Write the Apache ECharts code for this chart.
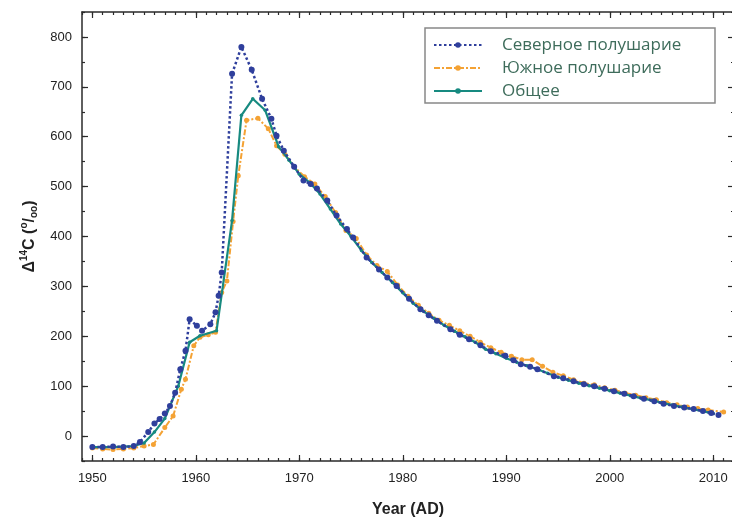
<!DOCTYPE html>
<html>
<head>
<meta charset="utf-8">
<script src="https://cdn.jsdelivr.net/npm/echarts@6/dist/echarts.min.js"></script>
<style>
html,body{margin:0;padding:0;background:#fff;overflow:hidden;}
#c{width:732px;height:520px;}
</style>
</head>
<body>
<div id="c"></div>
<script>
// ---- data ----
const xTickLabels = [1950, 1960, 1970, 1980, 1990, 2000, 2010];
const yTickLabels = [0, 100, 200, 300, 400, 500, 600, 700, 800];

const northYears = [1950, 1951, 1952, 1953, 1954, 1954.6, 1955.4, 1956, 1956.5, 1957, 1957.5, 1958, 1958.5, 1959, 1959.4, 1960.1, 1960.6, 1961.4, 1961.9, 1962.2, 1962.5, 1963.5, 1964.4, 1965.4, 1966.4, 1967.3, 1967.8, 1968.5, 1969.5, 1970.4, 1971.1, 1971.7, 1972.7, 1973.6, 1974.6, 1975.2, 1976.5, 1977.7, 1978.5, 1979.4, 1980.6, 1981.7, 1982.5, 1983.3, 1984.6, 1985.5, 1986.4, 1987.5, 1988.5, 1989.9, 1990.7, 1991.4, 1992.3, 1993, 1994.6, 1995.5, 1996.5, 1997.5, 1998.5, 1999.5, 2000.4, 2001.4, 2002.3, 2003.3, 2004.3, 2005.2, 2006.2, 2007.2, 2008.1, 2009, 2009.8, 2010.5];
const northValues = [-22, -22, -21, -22, -20, -12, 8, 25, 34, 45, 60, 87, 134, 171, 234, 221, 211, 224, 248, 281, 328, 726, 780, 734, 676, 636, 602, 572, 540, 512, 505, 496, 472, 442, 415, 398, 358, 334, 318, 301, 275, 254, 242, 231, 214, 203, 194, 182, 170, 161, 152, 144, 139, 134, 120, 116, 110, 104, 100, 95, 90, 85, 80, 75, 70, 65, 60, 57, 54, 50, 46, 42];

const southYears = [1950, 1951, 1952, 1953, 1954, 1955, 1955.9, 1957, 1957.8, 1958.6, 1959, 1959.8, 1960.4, 1961.2, 1961.9, 1962.5, 1963, 1963.6, 1964.1, 1964.9, 1966, 1967, 1967.8, 1968.6, 1969.5, 1970.5, 1971.5, 1972.5, 1973.5, 1974.5, 1975.5, 1976.5, 1977.5, 1978.5, 1979.5, 1980.5, 1981.5, 1982.5, 1983.5, 1984.5, 1985.5, 1986.5, 1987.5, 1988.5, 1989.5, 1990.5, 1991.5, 1992.5, 1993.5, 1994.5, 1995.5, 1996.5, 1997.5, 1998.5, 1999.5, 2000.5, 2001.5, 2002.5, 2003.5, 2004.5, 2005.5, 2006.5, 2007.5, 2008.5, 2009.5, 2011];
const southValues = [-24, -26, -27, -26, -24, -20, -17, 17, 40, 94, 114, 181, 198, 203, 208, 288, 311, 430, 522, 633, 637, 616, 582, 565, 540, 520, 505, 480, 448, 412, 396, 363, 342, 330, 303, 280, 262, 246, 232, 222, 211, 200, 188, 177, 168, 160, 153, 153, 140, 128, 121, 113, 106, 103, 97, 92, 86, 82, 77, 73, 67, 63, 58, 55, 52, 48];

const totalYears = [1950, 1952, 1954, 1955, 1956, 1957, 1958.3, 1959.4, 1960.4, 1962, 1963.5, 1964.4, 1965.5, 1966.7, 1968, 1969, 1970, 1971, 1972, 1973, 1974, 1975, 1976, 1977, 1978, 1979, 1980, 1981, 1982, 1983, 1984, 1985, 1986, 1987, 1988, 1989, 1990, 1991, 1992, 1993, 1994, 1995, 1996, 1997, 1998, 1999, 2000, 2001, 2002, 2003, 2004, 2005, 2006, 2007, 2008, 2009, 2010];
const totalValues = [-22, -22, -20, -14, 8, 35, 100, 188, 201, 211, 432, 643, 676, 653, 580, 553, 525, 508, 485, 455, 425, 400, 372, 348, 328, 308, 287, 266, 250, 236, 222, 210, 199, 188, 174, 165, 156, 148, 141, 134, 126, 118, 112, 106, 101, 96, 91, 86, 81, 76, 72, 67, 62, 58, 54, 50, 45];

const names = ['Северное полушарие', 'Южное полушарие', 'Общее'];

function pairs(xs, ys) { return xs.map((x, i) => [x, ys[i]]); }

const axisColor = '#2a2a2a';
const labelFont = 'Liberation Sans, Arial, sans-serif';

function xAx(pos, major) {
  const a = {
    type: 'value', min: 1949, max: 2012, position: pos,
    axisLine: { show: major, onZero: false, lineStyle: { color: axisColor, width: 1.5 } },
    splitLine: { show: false },
    axisTick: { show: true, inside: true, length: major ? 6 : 3, lineStyle: { color: axisColor, width: 1.2 } },
    axisLabel: { show: false }
  };
  if (major) {
    a.axisTick.customValues = xTickLabels;
  } else {
    a.interval = 1;
  }
  return a;
}
function yAx(pos, major) {
  const a = {
    type: 'value', min: -50, max: 850, position: pos,
    axisLine: { show: major, onZero: false, lineStyle: { color: axisColor, width: 1.5 } },
    splitLine: { show: false },
    axisTick: { show: true, inside: true, length: major ? 6 : 3, lineStyle: { color: axisColor, width: 1.2 } },
    axisLabel: { show: false }
  };
  if (major) {
    a.axisTick.customValues = yTickLabels;
  } else {
    a.interval = 50;
  }
  return a;
}

const xb = xAx('bottom', true);
xb.axisLabel = { show: true, customValues: xTickLabels, margin: 11, fontSize: 13, color: '#222', fontFamily: labelFont, formatter: v => String(v) };
xb.name = 'Year (AD)';
xb.nameLocation = 'middle';
xb.nameGap = 41;
xb.nameTextStyle = { fontWeight: 'bold', fontSize: 16, color: '#222', fontFamily: labelFont };

const yl = yAx('left', true);
yl.axisLabel = { show: true, customValues: yTickLabels, margin: 10, fontSize: 13, color: '#222', fontFamily: labelFont, formatter: v => String(v) };
yl.name = '{b|Δ}{sup|14}{b|C (}{sup|o}{b|/}{sub|oo}{b|)}';
yl.nameLocation = 'middle';
yl.nameGap = 42;
yl.nameRotate = 90;
yl.nameTextStyle = {
  fontWeight: 'bold', fontSize: 16, color: '#222', fontFamily: labelFont,
  rich: {
    b: { fontWeight: 'bold', fontSize: 16, color: '#222', fontFamily: labelFont, lineHeight: 20 },
    sup: { fontWeight: 'bold', fontSize: 10, color: '#222', fontFamily: labelFont, verticalAlign: 'top', lineHeight: 20, padding: [0, 0, 7, 0] },
    sub: { fontWeight: 'bold', fontSize: 10, color: '#222', fontFamily: labelFont, verticalAlign: 'bottom', lineHeight: 20, padding: [7, 0, 0, 0] }
  }
};

const chart = echarts.init(document.getElementById('c'), null, { renderer: 'canvas' });
chart.setOption({
  animation: false,
  backgroundColor: '#fff',
  grid: { left: 82, right: -2, top: 12, bottom: 59, containLabel: false, outerBoundsMode: 'none' },
  xAxis: [xb, xAx('bottom', false), xAx('top', true), xAx('top', false)],
  yAxis: [yl, yAx('left', false), yAx('right', true), yAx('right', false)],
  legend: {
    data: names,
    orient: 'vertical',
    left: 433, top: 35,
    itemWidth: 48, itemHeight: 7, itemGap: 3,
    padding: 0,
    textStyle: { fontSize: 17, color: '#3e6c5b', fontFamily: 'Open Sans, sans-serif', lineHeight: 20, padding: [0, 0, 0, 15] }
  },
  graphic: [{
    type: 'rect', shape: { x: 425, y: 28, width: 290, height: 75 },
    style: { fill: '#fff', stroke: '#888', lineWidth: 1.5 }, z: -1, silent: true
  }],
  series: [
    {
      name: names[0], type: 'line', xAxisIndex: 0, yAxisIndex: 0, z: 4,
      data: pairs(northYears, northValues),
      symbol: 'circle', symbolSize: 6,
      lineStyle: { color: '#2f3f9c', width: 2.5, type: [2.5, 2.5] },
      itemStyle: { color: '#2f3f9c' }
    },
    {
      name: names[1], type: 'line', xAxisIndex: 0, yAxisIndex: 0, z: 2,
      data: pairs(southYears, southValues),
      symbol: 'circle', symbolSize: 5,
      lineStyle: { color: '#f4a234', width: 2, type: [6, 2, 2, 2] },
      itemStyle: { color: '#f4a234' }
    },
    {
      name: names[2], type: 'line', xAxisIndex: 0, yAxisIndex: 0, z: 3,
      data: pairs(totalYears, totalValues),
      symbol: 'circle', symbolSize: 3.5,
      lineStyle: { color: '#178a80', width: 2.2 },
      itemStyle: { color: '#178a80' }
    }
  ]
});
</script>
</body>
</html>
